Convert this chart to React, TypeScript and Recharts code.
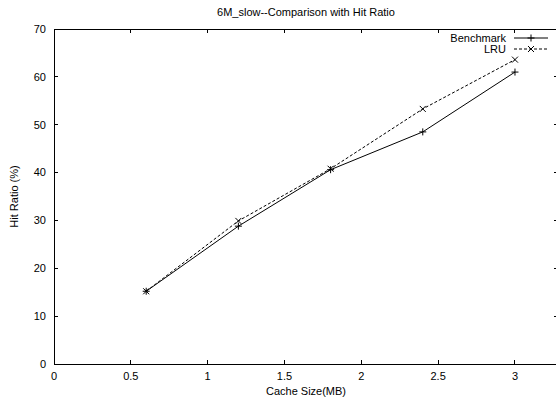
import React from 'react';
import { LineChart, Line, XAxis, YAxis, Legend, ReferenceArea } from 'recharts';

const cacheSizes = [0.6, 1.2, 1.8, 2.4, 3.0];
const benchmark = [15.2, 28.8, 40.6, 48.5, 61.0];
const lru = [15.2, 29.9, 40.8, 53.3, 63.6];
const xTicks = [0, 0.5, 1, 1.5, 2, 2.5, 3];
const yTicks = [0, 10, 20, 30, 40, 50, 60, 70];
const title = '6M_slow--Comparison with Hit Ratio';

const data = cacheSizes.map((x, i) => ({ x, benchmark: benchmark[i], lru: lru[i] }));

const FONT = '"Liberation Sans", Arial, Helvetica, sans-serif';
const X_DOMAIN: [number, number] = [0, 3.28];
const Y_DOMAIN: [number, number] = [0, 70];

const CHART_W = 570;
const CHART_H = 402;
const MARGIN = { top: 29, right: 12, bottom: 0, left: 0 };
const TICK_SIZE = 4;
const TICK_MARGIN = 4;
const TICK_LEN = 4;
const PLOT_TOP = MARGIN.top;
const PLOT_RIGHT = CHART_W - MARGIN.right;

const XTick = (props: any) => {
  const { x, y, payload } = props;
  const axisY = y - TICK_SIZE - TICK_MARGIN;
  return (
    <g>
      <line x1={x} x2={x} y1={axisY} y2={axisY - TICK_LEN} stroke="#000" strokeWidth={1} shapeRendering="crispEdges" />
      <line x1={x} x2={x} y1={PLOT_TOP} y2={PLOT_TOP + TICK_LEN} stroke="#000" strokeWidth={1} shapeRendering="crispEdges" />
      <text x={x} y={y} dy="0.71em" textAnchor="middle" fontSize={11} fontFamily={FONT} fill="#000">
        {payload.value}
      </text>
    </g>
  );
};

const YTick = (props: any) => {
  const { x, y, payload } = props;
  const axisX = x + TICK_SIZE + TICK_MARGIN;
  return (
    <g>
      <line x1={axisX} x2={axisX + TICK_LEN} y1={y} y2={y} stroke="#000" strokeWidth={1} shapeRendering="crispEdges" />
      <line x1={PLOT_RIGHT - TICK_LEN} x2={PLOT_RIGHT} y1={y} y2={y} stroke="#000" strokeWidth={1} shapeRendering="crispEdges" />
      {payload.value === Y_DOMAIN[1] ? (
        <line x1={axisX} x2={PLOT_RIGHT} y1={y} y2={y} stroke="#000" strokeWidth={1} shapeRendering="crispEdges" />
      ) : null}
      <text x={x} y={y} dy="0.355em" textAnchor="end" fontSize={11} fontFamily={FONT} fill="#000">
        {payload.value}
      </text>
    </g>
  );
};

const PlusDot = (props: any) => {
  const { cx, cy, index } = props;
  if (cx == null || cy == null) return <g key={`p${index}`} />;
  return (
    <path key={`p${index}`} d={`M${cx - 3.5},${cy}H${cx + 3.5}M${cx},${cy - 3.5}V${cy + 3.5}`} stroke="#000" strokeWidth={1} fill="none" />
  );
};

const CrossDot = (props: any) => {
  const { cx, cy, index } = props;
  if (cx == null || cy == null) return <g key={`c${index}`} />;
  return (
    <path key={`c${index}`} d={`M${cx - 3},${cy - 3}L${cx + 3},${cy + 3}M${cx - 3},${cy + 3}L${cx + 3},${cy - 3}`} stroke="#000" strokeWidth={1} fill="none" />
  );
};

const LegendContent = (props: any) => {
  const payload = props.payload || [];
  return (
    <svg width={140} height={28} style={{ display: 'block', overflow: 'visible' }}>
      {payload.map((item: any, i: number) => {
        const cy = 8 + i * 11;
        const dashed = i === 1;
        return (
          <g key={i}>
            <text x={86} y={cy} dy="0.35em" textAnchor="end" fontSize={11} fontFamily={FONT} fill="#000">
              {item.value}
            </text>
            <line x1={94} x2={128} y1={cy} y2={cy} stroke="#000" strokeWidth={1} strokeDasharray={dashed ? '3 2' : undefined} />
            {dashed ? (
              <path d={`M${108},${cy - 3}L${114},${cy + 3}M${108},${cy + 3}L${114},${cy - 3}`} stroke="#000" strokeWidth={1} />
            ) : (
              <path d={`M${107.5},${cy}H${114.5}M${111},${cy - 3.5}V${cy + 3.5}`} stroke="#000" strokeWidth={1} />
            )}
          </g>
        );
      })}
    </svg>
  );
};

const lineStyle = { stroke: '#000', strokeWidth: 1, shapeRendering: 'crispEdges' };

export default function App() {
  return (
    <div style={{ position: 'absolute', left: 0, top: 0, width: 556, height: 402, overflow: 'hidden', background: '#fff' }}>
      <div
        style={{
          position: 'absolute',
          left: 0,
          top: 6,
          width: 612,
          textAlign: 'center',
          fontFamily: FONT,
          fontSize: 11,
          lineHeight: '13px',
          color: '#000',
          whiteSpace: 'nowrap',
        }}
      >
        {title}
      </div>
      <LineChart width={CHART_W} height={CHART_H} data={data} margin={MARGIN}>
        <ReferenceArea
          x1={X_DOMAIN[0]}
          x2={X_DOMAIN[1]}
          y1={Y_DOMAIN[0]}
          y2={Y_DOMAIN[1]}
          fill="none"
          fillOpacity={0}
          stroke="#000"
          strokeWidth={1}
          shapeRendering="crispEdges"
          ifOverflow="visible"
        />
        <XAxis
          dataKey="x"
          type="number"
          domain={X_DOMAIN}
          allowDataOverflow
          ticks={xTicks}
          height={38}
          tickSize={TICK_SIZE}
          tickMargin={TICK_MARGIN}
          tick={<XTick />}
          axisLine={lineStyle}
          tickLine={false}
          label={{ value: 'Cache Size(MB)', position: 'insideBottom', offset: 7, fill: '#000', fontSize: 11, fontFamily: FONT }}
        />
        <YAxis
          type="number"
          domain={Y_DOMAIN}
          ticks={yTicks}
          width={54}
          tickSize={TICK_SIZE}
          tickMargin={TICK_MARGIN}
          tick={<YTick />}
          axisLine={lineStyle}
          tickLine={false}
          label={{ value: 'Hit Ratio (%)', angle: -90, position: 'insideLeft', offset: 14, fill: '#000', fontSize: 11, fontFamily: FONT, style: { textAnchor: 'middle' } }}
        />
        <Legend
          layout="vertical"
          align="center"
          verticalAlign="middle"
          content={<LegendContent />}
          wrapperStyle={{ position: 'absolute', left: 420, top: 30, width: 140, height: 28 }}
        />
        <Line
          name="Benchmark"
          dataKey="benchmark"
          stroke="#000"
          strokeWidth={1}
          dot={PlusDot}
          activeDot={false}
          isAnimationActive={false}
        />
        <Line
          name="LRU"
          dataKey="lru"
          stroke="#000"
          strokeWidth={1}
          strokeDasharray="3 2"
          dot={CrossDot}
          activeDot={false}
          isAnimationActive={false}
        />
      </LineChart>
    </div>
  );
}
